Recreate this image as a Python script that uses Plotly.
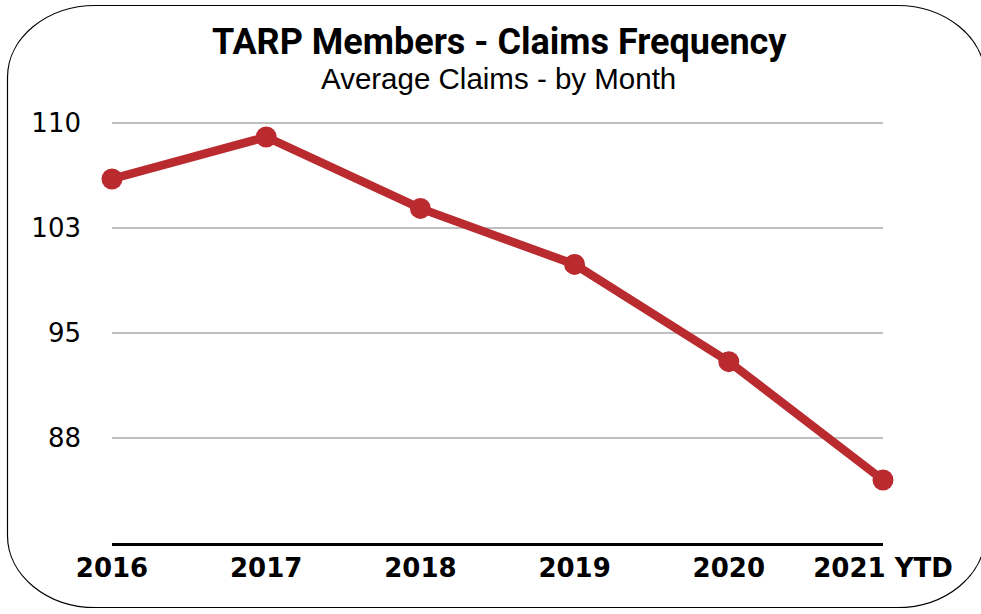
import plotly.graph_objects as go

years = ["2016", "2017", "2018", "2019", "2020", "2021 YTD"]
claims = [106.0, 109.0, 103.9, 99.9, 92.95, 84.5]
y_tickvals = [87.5, 95, 102.5, 110]
y_ticktext = ["88", "95", "103", "110"]

W, H = 981, 614
L, R, T, B = 112, 883, 109, 543  # plot area in pixels
pw, ph = R - L, B - T

def px(x):
    return (x - L) / pw

def py(y):
    return (B - y) / ph

# rounded border (pixel coords -> paper coords)
x0, x1, y0, y1 = 7.5, 985, 5.5, 607.5
rx, ry = 88, 72
k = 0.5523
pts = [
    ("M", [(x0 + rx, y0)]),
    ("L", [(x1 - rx, y0)]),
    ("C", [(x1 - rx + k * rx, y0), (x1, y0 + ry - k * ry), (x1, y0 + ry)]),
    ("L", [(x1, y1 - ry)]),
    ("C", [(x1, y1 - ry + k * ry), (x1 - rx + k * rx, y1), (x1 - rx, y1)]),
    ("L", [(x0 + rx, y1)]),
    ("C", [(x0 + rx - k * rx, y1), (x0, y1 - ry + k * ry), (x0, y1 - ry)]),
    ("L", [(x0, y0 + ry)]),
    ("C", [(x0, y0 + ry - k * ry), (x0 + rx - k * rx, y0), (x0 + rx, y0)]),
]
path = ""
for cmd, ps in pts:
    path += cmd + " " + " ".join(f"{px(a):.5f},{py(b):.5f}" for a, b in ps) + " "
path += "Z"

fig = go.Figure()
fig.add_trace(go.Scatter(
    x=list(range(len(years))), y=claims, mode="lines+markers",
    line=dict(color="#BA2B30", width=8.5),
    marker=dict(color="#BA2B30", size=21),
    cliponaxis=False, hoverinfo="skip",
))

fig.add_shape(type="path", path=path, xref="paper", yref="paper",
              line=dict(color="black", width=1.2), fillcolor="rgba(0,0,0,0)", layer="below")

fig.add_annotation(text="<b>TARP Members - Claims Frequency</b>", xref="paper", yref="paper",
                   x=px(499), y=py(42), xanchor="center", yanchor="middle", showarrow=False,
                   font=dict(family="Roboto", size=36, color="black"))
fig.add_annotation(text="Average Claims - by Month", xref="paper", yref="paper",
                   x=px(498), y=py(79), xanchor="center", yanchor="middle", showarrow=False,
                   font=dict(family="Liberation Sans", size=29.5, color="black"))

fig.update_layout(
    width=W, height=H,
    margin=dict(l=L, r=W - R, t=T, b=H - B, autoexpand=False),
    paper_bgcolor="white", plot_bgcolor="white",
    showlegend=False,
    xaxis=dict(range=[0, 5], tickvals=list(range(len(years))), ticktext=years,
               showgrid=False, zeroline=False, showline=True, linecolor="black", linewidth=2.5,
               ticks="", ticklabelstandoff=0,
               tickfont=dict(family="DejaVu Sans", size=26, color="black", weight="bold")),
    yaxis=dict(range=[80, 111], tickvals=y_tickvals, ticktext=y_ticktext,
               showgrid=True, gridcolor="#BFBFBF", gridwidth=2, zeroline=False, showline=False,
               ticks="", ticklabelstandoff=30,
               tickfont=dict(family="DejaVu Sans", size=26, color="black")),
)

fig.write_html("out.html", config={"displayModeBar": False},
               post_script="document.body.style.margin='0px';document.body.style.overflow='hidden';")
